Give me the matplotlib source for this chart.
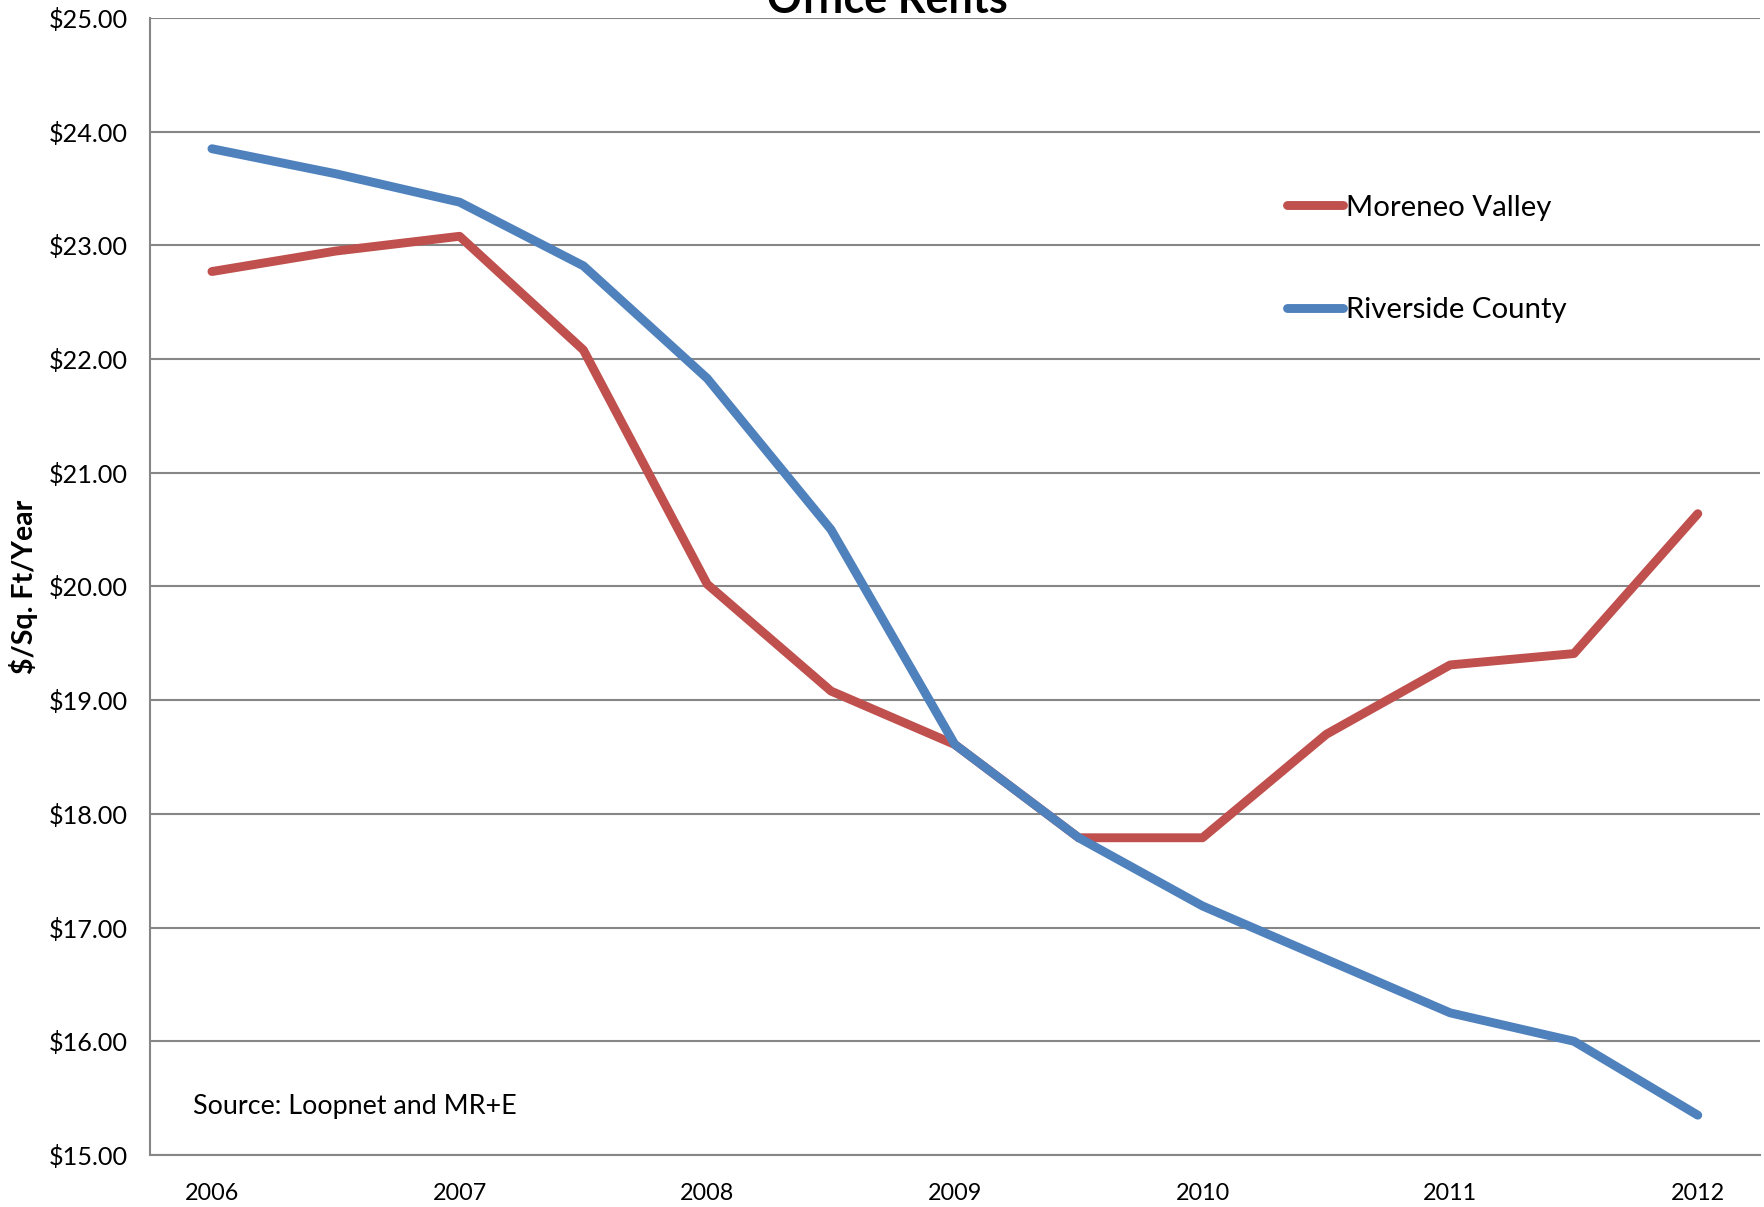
import matplotlib.pyplot as plt
import numpy as np

plt.rcParams['font.family'] = ['Lato', 'DejaVu Sans']

# half-year periods, 2006 .. 2012
periods = np.arange(13)
year_labels = ['2006', '2007', '2008', '2009', '2010', '2011', '2012']
moreno_valley = [22.77, 22.95, 23.08, 22.08, 20.02, 19.08, 18.61, 17.79, 17.79, 18.70, 19.31, 19.41, 20.64]
riverside = [23.85, 23.63, 23.38, 22.82, 21.83, 20.50, 18.61, 17.79, 17.19, 16.72, 16.25, 16.00, 15.35]

red = '#C0504D'
blue = '#4F81BD'
grid_col = '#868686'

fig = plt.figure(figsize=(17.65, 12.07), dpi=100)
ax = fig.add_axes([0.085, 0.0431, 0.912, 0.9420])

ax.plot(periods, moreno_valley, color=red, lw=6.4, solid_capstyle='round',
        solid_joinstyle='round', label='Moreneo Valley')
ax.plot(periods, riverside, color=blue, lw=6.4, solid_capstyle='round',
        solid_joinstyle='round', label='Riverside County')

ax.set_xlim(-0.5, 12.5)
ax.set_ylim(15, 25)
ax.set_yticks(np.arange(15, 26, 1))
ax.set_yticklabels(['$%.2f' % v for v in np.arange(15, 26, 1)])
ax.set_xticks(periods[::2])
ax.set_xticklabels(year_labels)
ax.tick_params(length=0)
ax.tick_params(axis='y', labelsize=18.2, pad=16)
ax.tick_params(axis='x', labelsize=16.8, pad=20)
ax.grid(axis='y', color=grid_col, lw=1.5)
ax.set_axisbelow(True)
for s in ['top', 'right']:
    ax.spines[s].set_visible(False)
for s in ['left', 'bottom']:
    ax.spines[s].set_color(grid_col)
    ax.spines[s].set_linewidth(1.5)

ax.set_ylabel('$/Sq. Ft/Year', fontsize=20.5, fontweight='bold', labelpad=8)

ax.text(0.027, 0.043, 'Source: Loopnet and MR+E', transform=ax.transAxes,
        fontsize=19.4, va='center')

fig.text(0.503, 1.0, 'Office Rents', ha='center', va='center',
         fontsize=31, fontweight='bold')

ax.legend(loc='upper left', bbox_to_anchor=(0.690, 0.868), frameon=False,
          fontsize=21.2, handlelength=1.9, handletextpad=0.1, labelspacing=2.6)

fig.savefig('out.png', dpi=100)
